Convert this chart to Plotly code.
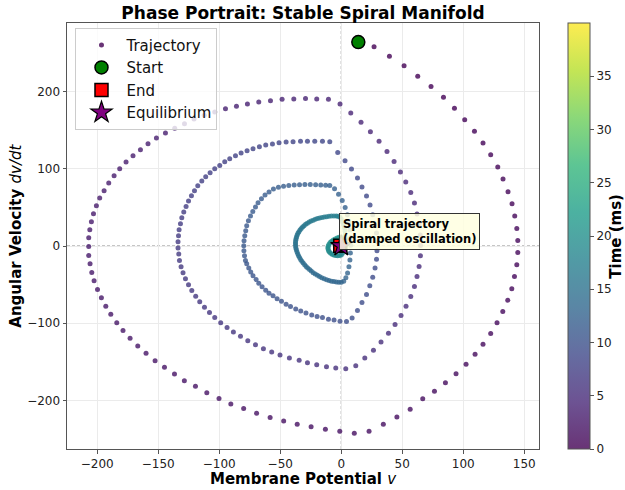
import plotly.graph_objects as go
import plotly.colors as pc

# ---------------- data ----------------
# Loop 1 (outermost, starts at the Start marker)
LOOP1_V = [14, 26.9, 39.5, 51.5, 62.7, 73.6, 83.8, 92.8, 101.2, 109.2,
           116.2, 122.5, 128.3, 132.6, 136.7, 140, 142.2, 143.9, 144.7, 144.7, 143.9,
           142, 139.8, 136.5, 132.4, 127.7, 122.5, 116.2, 109.7, 102.3, 94.1, 85.4, 76.4, 66.8,
           56.5, 45.6, 34.5, 22.8, 10.7, -1.2, -13, -24.7, -36.1, -47.2, -58.3, -69.4, -80, -90.5,
           -100.2, -110.2, -119.5, -128.6,
           -136.7, -144.9, -152.6, -160, -166.8, -173.1, -178.9, -184, -188.9, -193, -196.6, -199.8,
           -202.6, -204.5, -205.9,
           -207, -207, -207, -206.1, -204.8, -203.1, -200.7, -198, -194.4, -190.6, -186.2, -181.6,
           -176.4, -170.7, -164.6, -158.4, -151.5, -144.1,
           -136.5, -128.5, -120.7, -112.3, -103.7, -94.9, -85.9, -76.9, -67.6, -58, -48.5, -38.9,
           -29.3, -20.1, -10.5, -1, 7.8, 16.2, 23.9]
LOOP1_DV = [264, 257.8, 245.6, 233.2, 219.7, 206.4, 192.5, 178.2, 163.6, 148.4,
            133.4, 118.2, 102.3, 86.7, 70.3, 54.7, 38.8, 22.7, 7.1, -8.4, -24.4,
            -39.5, -55.5, -70.1, -84.9, -99.2, -113.4, -127.2, -140.1, -153.1, -165.3, -176.9, -188.1, -197.7,
            -211.4, -221.5, -230.8, -239.7, -242.4, -239.7, -237.3, -234.1, -230.8, -226.7, -222, -216.5,
            -210.5, -204.4, -197.5, -190.1, -181.7, -174.3,
            -165.6, -157, -148.4, -138.8, -129.4, -119.4, -109.5, -99.2, -88.3, -77.9, -67.1, -56.4,
            -45.1, -34.3, -23.1,
            -12.3, -0.6, 10.6, 21, 31.4, 41.7, 52.1, 62.1, 71.5, 81.5, 91, 100.1, 108.7, 116.9, 124.7,
            132.5, 139.9, 146.3,
            152.3, 158.4, 164.5, 169.4, 173.6, 177.8, 180.8, 183.9, 186.5, 188.2, 189.9, 190.4, 190.8,
            190.4, 189.9, 183.9, 172.3, 160.1, 148]
LOOP1_T = [0.00, 0.04, 0.08, 0.12, 0.16, 0.20, 0.24, 0.28, 0.32, 0.36,
           0.40, 0.44, 0.48, 0.52, 0.56, 0.60, 0.64, 0.68, 0.72, 0.76,
           0.80, 0.84, 0.88, 0.92, 0.96, 1.00, 1.04, 1.08, 1.12, 1.16,
           1.20, 1.24, 1.28, 1.32, 1.36, 1.40, 1.44, 1.48, 1.52, 1.56,
           1.60, 1.64, 1.68, 1.72, 1.76, 1.80, 1.84, 1.88, 1.92, 1.96,
           2.00, 2.04, 2.08, 2.12, 2.16, 2.20, 2.24, 2.28, 2.32, 2.36,
           2.40, 2.44, 2.48, 2.52, 2.56, 2.60, 2.64, 2.68, 2.72, 2.76,
           2.80, 2.84, 2.88, 2.92, 2.96, 3.00, 3.04, 3.08, 3.12, 3.16,
           3.20, 3.24, 3.28, 3.32, 3.36, 3.40, 3.44, 3.48, 3.52, 3.56,
           3.60, 3.64, 3.68, 3.72, 3.76, 3.80, 3.84, 3.88, 3.92, 3.96,
           4.00, 4.04, 4.08, 4.12]

# Loop 2
LOOP2_V = [31, 37.5, 43.3, 48.5, 52.9, 57, 60, 62.1, 63.8, 64.8, 65,
           64.9, 63.8, 62.1, 60, 57, 53.1, 49, 44.1, 38.7, 32.6, 26.4, 19.3, 11.9, 3.7,
           -4.5, -12.1, -20.1, -27.7, -34.5,
           -42.5, -50.2, -57, -63.8, -70.3, -76.6, -82.6, -88.4, -93.6, -98.8, -103.7, -108, -112.1,
           -116, -119.3, -122.5, -125.2, -127.7, -129.7, -131.3, -132.6,
           -133.2, -133.8, -133.8, -133.4, -132.9, -131.8, -130.7, -129.1, -127.2, -125.2, -122.8,
           -120.3, -117.6, -114.3, -111.1, -107.5, -103.7, -99.6, -95.5, -91.4, -86.7, -82.1, -77.2,
           -72.3, -67.1, -61.9, -56.4, -51, -45.2, -39.5, -33.4, -27.7, -21.7, -15.4, -9.4, -2.9, 3.1,
           8.4, 13.3]
LOOP2_DV = [135.5, 122.5, 109.5, 95.8, 82.8, 69.3, 55.6, 41.3, 27.8, 14.3, 0.8,
            -12.7, -26.6, -39.5, -52.5, -65.5, -77.9, -90.1, -101.7, -112.9, -124.2, -134.9, -144.9,
            -154.9, -158.8,
            -157.9, -156.2, -153.6, -151, -147.9,
            -144.9, -141, -137.1, -132.9, -127.7, -122.5, -116.8, -111.2, -105.6, -99.2, -92.7, -86.2,
            -79.2, -72.3, -65, -57.7, -50.3, -42.5, -34.7, -27, -18.8,
            -10.5, -2.7, 5.4, 13.2, 21, 28.8, 36.6, 43.9, 51.2, 58.2, 65.1, 71.5, 78, 84.1, 89.7, 94.9,
            100.1, 104.3, 109.1, 113, 116.9, 120.4, 123.4, 126, 128.6, 130.8, 132.1, 133.8, 134.7,
            135.1, 135.5, 135.5, 135.5, 135.5, 135.1, 121.2, 110.4, 99.7, 88]
LOOP2_T = [4.20, 4.25, 4.30, 4.35, 4.40, 4.45, 4.50, 4.55, 4.60, 4.65,
           4.70, 4.75, 4.80, 4.85, 4.90, 4.95, 5.00, 5.05, 5.10, 5.15,
           5.20, 5.25, 5.30, 5.35, 5.40, 5.45, 5.50, 5.55, 5.60, 5.65,
           5.70, 5.75, 5.80, 5.85, 5.90, 5.95, 6.00, 6.05, 6.10, 6.15,
           6.20, 6.25, 6.30, 6.35, 6.40, 6.45, 6.50, 6.55, 6.60, 6.65,
           6.70, 6.75, 6.80, 6.85, 6.90, 6.95, 7.00, 7.05, 7.10, 7.15,
           7.20, 7.25, 7.30, 7.35, 7.40, 7.45, 7.50, 7.55, 7.60, 7.65,
           7.70, 7.75, 7.80, 7.85, 7.90, 7.95, 8.00, 8.05, 8.10, 8.15,
           8.20, 8.25, 8.30, 8.35, 8.40, 8.45, 8.50, 8.55, 8.60, 8.65]

# Loop 3
LOOP3_V = [17, 20.7, 23.6, 25.8, 27.5, 28.9, 29.5, 29.3, 28.9, 27.7,
           25.8, 23.4, 20.7, 17, 13.3, 8.9, 4.3, -1, -5.9, -10.5,
           -15.4, -19.8, -24.2, -28.9, -33.2, -37.3, -41.6, -45.2, -49, -52.6,
           -55.9, -59.2, -61.9, -64.9, -67.6, -69.8, -72.3, -74.2, -75.8, -77.5,
           -78.5, -79.3, -79.8, -79.9, -79.7, -79.1, -78.3, -77.5, -76.1, -74.4,
           -72.5, -70.3, -68.2, -65.4, -62.5, -59.2, -55.6, -51.5, -47.3, -43,
           -38.6, -34.2, -29.8, -25.4, -21, -16.8, -12.8, -9.4, -5.5, -2.2,
           0.8, 3.2, 5, 6.3, 7.2, 7.7, 7.8, 7.5, 7.1, 6.3, 5.2, 3.8, 2, 0]
LOOP3_DV = [76.3, 64.7, 53, 40.4, 27.5, 16.7, 5.4, -6, -17, -28.6,
            -40.3, -51.6, -62.9, -73.2, -83.6, -93.1, -97.9, -97.4, -95.7, -94.8,
            -92.7, -91.4, -89.2, -86.6, -84, -81.4, -78.4, -75.3, -71.4, -68.4,
            -64.5, -61.1, -57.2, -52.9, -48.1, -43.4, -38.6, -33.8, -28.6, -23.1,
            -18.8, -12.5, -6, 0.3, 6.7, 13.2, 19.7, 26.2, 32.7, 38.8,
            44.7, 50.4, 56, 61.2, 66, 69.9, 73.8, 75.9, 77.3, 78.3,
            79, 79.4, 79.6, 79.6, 79.4, 79, 78.6, 78.4, 74, 67,
            59, 50, 40.5, 31, 21, 11, 1, -9, -18, -27, -35, -41, -45.5, -47]
LOOP3_T = [8.70, 8.75, 8.80, 8.85, 8.90, 8.95, 9.00, 9.05, 9.10, 9.15,
           9.20, 9.25, 9.30, 9.35, 9.40, 9.45, 9.50, 9.55, 9.60, 9.65,
           9.70, 9.75, 9.80, 9.85, 9.90, 9.95, 10.00, 10.05, 10.10, 10.15,
           10.20, 10.25, 10.30, 10.35, 10.40, 10.45, 10.50, 10.55, 10.60, 10.65,
           10.70, 10.75, 10.80, 10.85, 10.90, 10.95, 11.00, 11.05, 11.10, 11.15,
           11.20, 11.25, 11.30, 11.35, 11.40, 11.45, 11.50, 11.55, 11.60, 11.65,
           11.70, 11.75, 11.80, 11.85, 11.90, 11.95, 12.00, 12.05, 12.10, 12.15,
           12.20, 12.25, 12.30, 12.35, 12.40, 12.45, 12.50, 12.55, 12.60, 12.65,
           12.70, 12.75, 12.80, 12.85]

# Loop 4 (dense teal ring and its descending right side)
LOOP4_V = [-2, -4, -6, -8, -10, -12, -14, -16, -17.8, -19.5,
           -21.3, -23, -24.6, -26, -27.5, -28.8, -30, -31.2, -32.3, -33.3,
           -34.2, -35, -35.7, -36.3, -36.8, -37.2, -37.4, -37.5, -37.5, -37.3,
           -37, -36.6, -36.1, -35.5, -34.7, -33.8, -32.8, -31.7, -30.5, -29.2,
           -27.8, -26.3, -24.7, -23, -21.3, -19.5, -17.7, -15.8, -13.9, -12,
           -10, -8, -6, -4, -2.5, -1.2,
           0, 1, 1.9, 2.6, 3.1, 3.4, 3.5, 3.4, 3.1, 2.6, 1.9, 1, 0]
LOOP4_DV = [-46.9, -46.5, -46.1, -45.5, -44.6, -43.6, -42.4, -41, -39.6, -38,
            -36.3, -34.5, -32.5, -30.5, -28.5, -26.5, -24.2, -22, -19.7, -17.5,
            -15, -12.5, -10, -7.5, -5, -2.5, 0, 2.5, 5, 7.5,
            9.8, 12, 14.3, 16.5, 18.6, 20.7, 22.6, 24.5, 26.3, 28,
            29.6, 31, 32.3, 33.5, 34.6, 35.5, 36.3, 37, 37.6, 38,
            38.4, 38.7, 38.9, 39, 38.6, 37.5,
            35, 31.5, 27.5, 23.5, 19.5, 15, 10.5, 6, 1.5, -2.5, -6.5, -9.5, -11.5]
LOOP4_T = [13.00, 13.08, 13.16, 13.24, 13.32, 13.40, 13.48, 13.56, 13.64, 13.72,
           13.80, 13.88, 13.96, 14.04, 14.12, 14.20, 14.28, 14.36, 14.44, 14.52,
           14.60, 14.68, 14.76, 14.84, 14.92, 15.00, 15.08, 15.16, 15.24, 15.32,
           15.40, 15.48, 15.56, 15.64, 15.72, 15.80, 15.88, 15.96, 16.04, 16.12,
           16.20, 16.28, 16.36, 16.44, 16.52, 16.60, 16.68, 16.76, 16.84, 16.92,
           17.00, 17.08, 17.16, 17.24, 17.32, 17.40, 17.48, 17.56, 17.64, 17.72,
           17.80, 17.88, 17.96, 18.04, 18.12, 18.20, 18.28, 18.36, 18.44]

# Loop 5 (small ring around the equilibrium)
LOOP5_V = [-1.5, -3, -4.6, -6.1, -7.5, -8.7, -9.7, -10.4, -10.8, -10.9,
           -10.6, -10, -9.1, -7.9, -6.5, -5, -3.4, -1.8, -0.4, 0.8,
           1.7, 2.3, 2.5, 2.4, 2, 1.3, 0.4, -0.6, -1.6, -2.6,
           -3.4, -3.9, -4.1, -4, -3.6, -2.9, -2.1, -1.2, -0.4, 0.2,
           0.5, 0.5, 0.2, -0.3, -0.8, -1.2, -1.4, -1.3, -1, -0.6]
LOOP5_DV = [-12.2, -12.5, -12.3, -11.7, -10.7, -9.4, -7.8, -6, -4, -1.9,
            0.3, 2.4, 4.4, 6.2, 7.8, 9.2, 10.4, 11.2, 11.4, 10.8,
            9.5, 7.6, 5.4, 3.3, 1.5, -0.2, -1.7, -2.9, -3.8, -4.2,
            -4.3, -4, -3.4, -2.5, -1.5, -0.5, 0.4, 1.1, 1.6, 1.8,
            1.6, 1.2, 0.7, 0.2, -0.2, -0.5, -0.6, -0.5, -0.3, -0.1]
LOOP5_T = [18.6, 18.7, 18.8, 18.9, 19.0, 19.1, 19.2, 19.3, 19.4, 19.5,
           19.6, 19.7, 19.8, 19.9, 20.0, 20.1, 20.2, 20.3, 20.4, 20.5,
           20.6, 20.7, 20.8, 20.9, 21.0, 21.1, 21.2, 21.3, 21.4, 21.5,
           21.6, 21.7, 21.8, 21.9, 22.0, 22.1, 22.2, 22.3, 22.4, 22.5,
           22.6, 22.7, 22.8, 22.9, 23.0, 23.1, 23.2, 23.3, 23.4, 23.5]

# Settled tail (hidden under the End / Equilibrium markers)
TAIL_V = [-0.5, -0.6, -0.7, -0.8]
TAIL_DV = [0.1, 0.2, 0.2, 0.2]
TAIL_T = [26.0, 31.0, 36.0, 39.9]

START_V, START_DV = [14], [264]
END_V, END_DV = [-0.8], [0.2]
EQ_V, EQ_DV = [0], [0]

X_TICKS = [-200, -150, -100, -50, 0, 50, 100, 150]
Y_TICKS = [-200, -100, 0, 100, 200]
CB_TICKS = [0, 5, 10, 15, 20, 25, 30, 35]
T_MIN, T_MAX = 0, 40

v_all = LOOP1_V + LOOP2_V + LOOP3_V + LOOP4_V + LOOP5_V + TAIL_V
dv_all = LOOP1_DV + LOOP2_DV + LOOP3_DV + LOOP4_DV + LOOP5_DV + TAIL_DV
t_all = LOOP1_T + LOOP2_T + LOOP3_T + LOOP4_T + LOOP5_T + TAIL_T

# viridis as it looks with alpha 0.8 over white (for the colour bar)
def blend(hexcol, a=0.8):
    r, g, b = pc.hex_to_rgb(hexcol)
    return "rgb({:.0f},{:.0f},{:.0f})".format(r * a + 255 * (1 - a), g * a + 255 * (1 - a), b * a + 255 * (1 - a))

vir = pc.sequential.Viridis
cscale_bar = [[i / (len(vir) - 1), blend(c)] for i, c in enumerate(vir)]

def fmt(n):
    return str(n).replace("-", "\u2212")

FONT = "DejaVu Sans"
fig = go.Figure()

# zero reference lines
fig.add_shape(type="line", xref="x", yref="paper", x0=0, x1=0, y0=0, y1=1,
              line=dict(color="rgba(120,120,120,0.85)", width=1, dash="3px,2px"), layer="below")
fig.add_shape(type="line", xref="paper", yref="y", x0=0, x1=1, y0=0, y1=0,
              line=dict(color="rgba(120,120,120,0.85)", width=1, dash="3px,2px"), layer="below")

fig.add_trace(go.Scatter(
    x=v_all, y=dv_all, mode="markers", name="Trajectory",
    marker=dict(size=5, color=t_all, colorscale="Viridis", cmin=T_MIN, cmax=T_MAX,
                opacity=0.8, line=dict(width=0), showscale=False),
    legendgroup="a"))
# colour bar (alpha-blended viridis, like the reference)
fig.add_trace(go.Scatter(
    x=EQ_V, y=EQ_DV, mode="markers", showlegend=False, hoverinfo="skip",
    marker=dict(size=1, opacity=0, color=[T_MIN], colorscale=cscale_bar, cmin=T_MIN, cmax=T_MAX,
                showscale=True,
                colorbar=dict(x=(568.3 - 67.3) / 472, xanchor="left", xpad=0, ypad=0,
                              y=0.5, yanchor="middle", len=1, lenmode="fraction",
                              thickness=22, thicknessmode="pixels",
                              outlinecolor="#555555", outlinewidth=1,
                              tickvals=CB_TICKS, ticktext=[str(c) for c in CB_TICKS],
                              ticks="outside", ticklen=4, tickcolor="#555555",
                              tickfont=dict(family=FONT, size=12, color="#222222")))))
fig.add_trace(go.Scatter(
    x=START_V, y=START_DV, mode="markers", name="Start",
    marker=dict(size=13, color="#008000", symbol="circle", line=dict(color="black", width=1.5)),
    legendgroup="b"))
fig.add_trace(go.Scatter(
    x=END_V, y=END_DV, mode="markers", name="End",
    marker=dict(size=13, color="#ff0000", symbol="square", line=dict(color="black", width=1.5)),
    legendgroup="c"))
fig.add_trace(go.Scatter(
    x=EQ_V, y=EQ_DV, mode="markers", name="Equilibrium",
    marker=dict(size=16, color="#800080", symbol="star", line=dict(color="black", width=1.2)),
    legendgroup="d"))

axis_common = dict(showline=True, mirror=True, linecolor="#555555", linewidth=1,
                   ticks="outside", ticklen=3.5, tickcolor="#555555",
                   showgrid=True, gridcolor="#ebebeb", gridwidth=0.8, zeroline=False,
                   tickfont=dict(family=FONT, size=12, color="#222222"))

fig.update_layout(
    width=625, height=490,
    margin=dict(l=67, r=86, t=23, b=41, autoexpand=False),
    plot_bgcolor="white", paper_bgcolor="white",
    font=dict(family=FONT, color="#111111"),
    title=dict(text="<b>Phase Portrait: Stable Spiral Manifold</b>", x=0.5, xref="paper", xanchor="center",
               y=1 - 13 / 490, yref="container", yanchor="middle",
               font=dict(family=FONT, size=17, color="black")),
    xaxis=dict(range=[-224.8, 162.1], tickvals=X_TICKS, ticktext=[fmt(t) for t in X_TICKS], **axis_common),
    yaxis=dict(range=[-262.8, 288.7], tickvals=Y_TICKS, ticktext=[fmt(t) for t in Y_TICKS], **axis_common),
    legend=dict(x=0.018, y=0.989, xanchor="left", yanchor="top",
                bgcolor="rgba(255,255,255,0.8)", bordercolor="#cccccc", borderwidth=1,
                font=dict(family=FONT, size=15, color="#111111"), tracegroupgap=0,
                itemwidth=40),
    showlegend=True,
)

fig.add_annotation(x=0.5, y=(449 - 479) / 425.7, xref="paper", yref="paper", showarrow=False,
                   text="<b>Membrane Potential </b><i>v</i>", xanchor="center", yanchor="middle",
                   font=dict(family=FONT, size=15, color="black"))
fig.add_annotation(x=(16 - 67.3) / 472, y=0.5, xref="paper", yref="paper", showarrow=False,
                   text="<b>Angular Velocity </b><i>dv/dt</i>", textangle=-90,
                   xanchor="center", yanchor="middle",
                   font=dict(family=FONT, size=15, color="black"))
fig.add_annotation(x=(616 - 67.3) / 472, y=0.5, xref="paper", yref="paper", showarrow=False,
                   text="<b>Time (ms)</b>", textangle=-90, xanchor="center", yanchor="middle",
                   font=dict(family=FONT, size=15, color="black"))
fig.add_annotation(x=-1.8, y=-5, xref="x", yref="y", showarrow=False, xanchor="left", yanchor="bottom",
                   text="<b>Spiral trajectory<br>(damped oscillation)</b>", align="left",
                   bgcolor="rgba(255,255,224,0.85)", bordercolor="#333333", borderwidth=1, borderpad=3,
                   font=dict(family=FONT, size=11.5, color="black"))

fig.write_html("out.html")
